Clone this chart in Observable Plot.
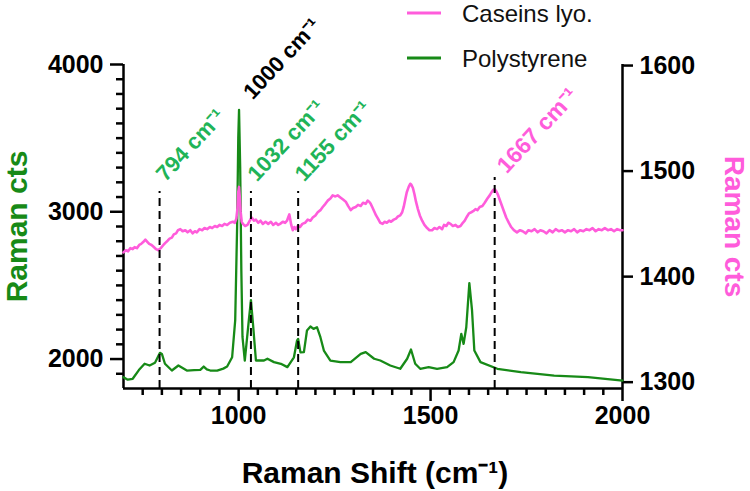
<!DOCTYPE html>
<html><head><meta charset="utf-8">
<script src="https://cdn.jsdelivr.net/npm/d3@7"></script>
<script src="https://cdn.jsdelivr.net/npm/@observablehq/plot@0.6"></script>
<style>body{margin:0;background:#fff} #chart{width:750px;height:491px}</style>
</head><body><div id="chart"></div>
<script>
// ---------- data ----------
const seriesNames = ["Caseins lyo.", "Polystyrene"];
const polyShift = [700,711,724,740,755,768,782,795,800,808,826,843,865,884,900,909,917,926,944,960,970,983,991,996,999,1001,1004,1007,1010,1016,1026,1032,1037,1045,1066,1075,1092,1110,1127,1144,1152,1155,1161,1170,1178,1187,1195,1204,1213,1222,1239,1265,1292,1318,1331,1353,1369,1395,1421,1439,1449,1460,1473,1495,1517,1543,1560,1573,1580,1586,1593,1601,1608,1614,1630,1674,1735,1822,1910,2000];
const polyCounts = [1877,1860,1866,1925,1968,1956,1975,2042,2035,1968,1922,1956,1922,1925,1927,1949,1930,1922,1922,1935,1949,2012,2262,2900,3500,3692,3300,2600,2150,1990,2250,2400,2250,1990,1990,2002,1979,1968,1945,2012,2125,2137,2045,2047,2194,2221,2205,2216,2148,2058,1990,1979,1979,2035,2047,2002,1990,1956,1934,2002,2065,1968,1934,1945,1934,1945,1979,2058,2171,2103,2216,2515,2330,2058,1979,1934,1911,1888,1877,1854];
const caseinShift = [700,706,712,718,724,729,735,741,746,752,757,762,767,773,779,785,791,797,804,809,815,820,826,831,837,842,848,854,861,867,874,880,886,891,898,905,911,918,925,931,938,944,950,957,963,970,977,985,990,994,997,999,1001,1003,1005,1008,1011,1017,1023,1029,1034,1040,1045,1051,1057,1063,1070,1077,1084,1090,1097,1103,1108,1115,1121,1126,1129,1132,1134,1137,1141,1145,1149,1154,1160,1166,1173,1180,1187,1193,1200,1206,1213,1219,1226,1232,1239,1245,1252,1258,1265,1272,1279,1285,1292,1298,1305,1311,1318,1324,1331,1336,1340,1344,1348,1353,1358,1363,1369,1375,1380,1386,1392,1397,1404,1410,1415,1421,1426,1430,1434,1438,1443,1447,1450,1454,1458,1462,1467,1472,1478,1484,1491,1497,1504,1510,1517,1523,1530,1535,1541,1546,1552,1558,1565,1571,1578,1584,1589,1595,1600,1606,1611,1617,1622,1628,1635,1641,1648,1654,1659,1663,1667,1671,1675,1679,1683,1687,1691,1697,1704,1710,1717,1725,1733,1740,1748,1755,1763,1771,1779,1786,1794,1802,1810,1818,1826,1834,1842,1850,1858,1866,1874,1882,1890,1898,1906,1914,1922,1930,1938,1946,1954,1962,1970,1978,1986,1994,2000];
const caseinCounts = [1423,1425,1424,1427,1426,1428,1427,1430,1431,1433,1435,1433,1431,1430,1428,1426,1425,1427,1430,1432,1434,1436,1437,1440,1441,1444,1445,1443,1444,1442,1444,1441,1443,1442,1445,1444,1446,1445,1447,1446,1448,1447,1449,1448,1450,1449,1451,1452,1451,1455,1465,1480,1485,1475,1462,1452,1450,1448,1449,1453,1456,1453,1454,1451,1453,1450,1452,1450,1452,1449,1451,1449,1450,1452,1451,1453,1456,1459,1455,1449,1444,1447,1445,1448,1447,1450,1451,1454,1453,1456,1458,1461,1463,1466,1469,1472,1474,1477,1476,1477,1475,1473,1471,1467,1463,1465,1466,1468,1467,1470,1469,1472,1471,1469,1466,1462,1458,1455,1451,1450,1452,1451,1453,1452,1454,1455,1457,1458,1461,1466,1473,1480,1485,1488,1487,1484,1478,1471,1464,1458,1453,1449,1446,1444,1444,1446,1445,1447,1445,1449,1448,1451,1450,1448,1449,1447,1448,1451,1453,1457,1460,1461,1462,1464,1463,1466,1467,1470,1474,1477,1480,1482,1483,1481,1478,1474,1470,1466,1462,1456,1451,1447,1444,1442,1444,1443,1441,1444,1443,1445,1442,1444,1443,1441,1444,1442,1445,1443,1444,1442,1444,1443,1445,1442,1444,1443,1445,1444,1446,1443,1445,1444,1446,1444,1445,1443,1445,1444,1444];
const peakShifts = [794, 1032, 1155, 1667];
const peakLabels = ["794 cm⁻¹", "1032 cm⁻¹", "1155 cm⁻¹", "1667 cm⁻¹"];
const peakLineTops = [3138, 3138, 3138, 3233];   // in left-axis counts
const mainPeakShift = [1000];
const mainPeakLabel = ["1000 cm⁻¹"];
const mainPeakLabelHeight = [3769];
const xTicks = [1000, 1500, 2000];
const xMinorTicks = [750, 800, 850, 900, 950, 1050, 1100, 1150, 1200, 1250, 1300, 1350, 1400, 1450, 1550, 1600, 1650, 1700, 1750, 1800, 1850, 1900, 1950];
const leftTicks = [2000, 3000, 4000];
const leftMinorTicks = [1900, 2100, 2200, 2300, 2400, 2500, 2600, 2700, 2800, 2900, 3100, 3200, 3300, 3400, 3500, 3600, 3700, 3800, 3900];
const rightTicks = [1300, 1400, 1500, 1600];
const xDomain = [700, 2000];
const leftDomain = [1800, 4000];
const rightDomain = [1294, 1601];

// ---------- colours ----------
const green = "#178a17", pink = "#ff5cdb", labelGreen = "#1fb458";

// right axis values mapped onto the left scale
const toLeft = v => leftDomain[0] + (v - rightDomain[0]) * (leftDomain[1] - leftDomain[0]) / (rightDomain[1] - rightDomain[0]);
const fromLeft = v => rightDomain[0] + (v - leftDomain[0]) * (rightDomain[1] - rightDomain[0]) / (leftDomain[1] - leftDomain[0]);

const poly = polyShift.map((x, i) => ({x, y: polyCounts[i]}));
const casein = caseinShift.map((x, i) => ({x, y: toLeft(caseinCounts[i])}));
const peaks = peakShifts.map((x, i) => ({x, top: peakLineTops[i], label: peakLabels[i]}));
const main = mainPeakShift.map((x, i) => ({x, y: mainPeakLabelHeight[i], label: mainPeakLabel[i]}));

const font = "Liberation Sans, Arial, Helvetica, sans-serif";
const axisText = {fontSize: 25, fontWeight: "bold", strokeWidth: 2.5, label: null, tickFormat: d => String(d)};
const minorOpts = {tickSize: 7, stroke: "black", strokeWidth: 2.5, tickFormat: () => "", label: null};

const chart = Plot.plot({
  width: 750, height: 491,
  marginLeft: 123, marginRight: 128, marginTop: 64, marginBottom: 103,
  x: {domain: xDomain},
  y: {domain: leftDomain},
  style: {fontFamily: font, background: "white", color: "black", overflow: "visible"},
  marks: [
    Plot.axisX(xTicks, {...axisText, tickSize: 13, tickPadding: 5}),
    Plot.axisX(xMinorTicks, minorOpts),
    Plot.axisY(leftTicks, {...axisText, anchor: "left", tickSize: 13, tickPadding: 7}),
    Plot.axisY(leftMinorTicks, {...minorOpts, anchor: "left"}),
    Plot.axisY(rightTicks.map(toLeft), {...axisText, anchor: "right", tickSize: 10, tickPadding: 7, tickFormat: d => String(Math.round(fromLeft(d)))}),
    Plot.ruleX([xDomain[0], xDomain[1]], {strokeWidth: 2.5}),
    Plot.ruleY([leftDomain[0]], {strokeWidth: 2.5}),
    Plot.line(poly, {x: "x", y: "y", stroke: green, strokeWidth: 2.3}),
    Plot.line(casein, {x: "x", y: "y", stroke: pink, strokeWidth: 2.6}),
    Plot.ruleX(peaks, {x: "x", y1: leftDomain[0], y2: "top", stroke: "black", strokeWidth: 2, strokeDasharray: "8,5"}),
    Plot.text(peaks.slice(0, 3), {x: "x", y: "top", text: "label", rotate: -47, textAnchor: "start", lineAnchor: "bottom", dx: 6, dy: -9, fill: labelGreen, fontSize: 22, fontWeight: "bold"}),
    Plot.text(peaks.slice(3), {x: "x", y: "top", text: "label", rotate: -47, textAnchor: "start", lineAnchor: "bottom", dx: 12, dy: -3, fill: pink, fontSize: 23, fontWeight: "bold"}),
    Plot.text(main, {x: "x", y: "y", text: "label", rotate: -47, textAnchor: "start", lineAnchor: "bottom", dx: 14, dy: 2, fill: "black", fontSize: 22, fontWeight: "bold"}),
    Plot.text(["Raman cts"], {frameAnchor: "left", dx: -106, rotate: -90, textAnchor: "middle", fill: green, fontSize: 30, fontWeight: "bold"}),
    Plot.text(["Raman cts"], {frameAnchor: "right", dx: 111, rotate: 90, textAnchor: "middle", fill: pink, fontSize: 28, fontWeight: "bold"}),
    Plot.text(["Raman Shift (cm⁻¹)"], {frameAnchor: "bottom", dx: 2, dy: 94, lineAnchor: "bottom", fill: "black", fontSize: 30, fontWeight: "bold"})
  ]
});
document.getElementById("chart").appendChild(chart);

// legend drawn inside the SVG
const svg = d3.select(chart);
const legend = svg.append("g").attr("font-family", font).attr("font-size", 24).attr("text-anchor", "start");
[[seriesNames[0], pink, 13], [seriesNames[1], green, 58]].forEach(([name, color, y]) => {
  legend.append("line").attr("x1", 407).attr("x2", 441).attr("y1", y).attr("y2", y)
    .attr("stroke", color).attr("stroke-width", 3);
  legend.append("text").attr("x", 462).attr("y", y + 9).attr("fill", "#111").text(name);
});
</script>
</body></html>
